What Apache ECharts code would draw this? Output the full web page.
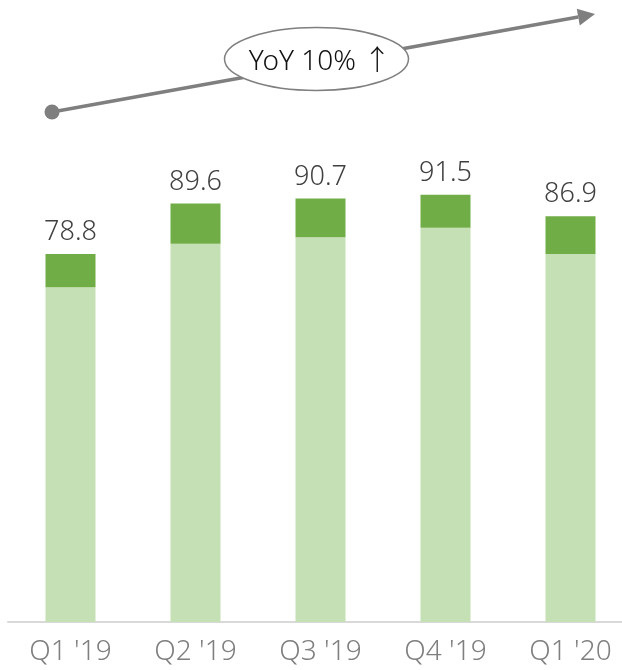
<!DOCTYPE html>
<html>
<head>
<meta charset="utf-8">
<script src="https://cdn.jsdelivr.net/npm/echarts@6/dist/echarts.min.js"></script>
<style>
html,body{margin:0;padding:0;background:#fff;overflow:hidden;width:622px;height:670px;}
#chart{width:633px;height:670px;}
</style>
</head>
<body>
<div id="chart"></div>
<script>
var categories = ["Q1 '19", "Q2 '19", "Q3 '19", "Q4 '19", "Q1 '20"];
var lowerValues = [71.7, 81.0, 82.4, 84.4, 78.8];
var upperValues = [7.1, 8.6, 8.3, 7.1, 8.1];
var totalLabels = ["78.8", "89.6", "90.7", "91.5", "86.9"];
var yoyText = "YoY 10% \u2191";

var chart = echarts.init(document.getElementById('chart'), null, {renderer: 'canvas'});

var FONT = "'Noto Sans', 'Noto Sans CJK KR', sans-serif";

// arrow geometry (annotation)
var p0 = [52, 112], tip = [595, 14];
var dx = tip[0] - p0[0], dy = tip[1] - p0[1];
var len = Math.sqrt(dx * dx + dy * dy);
var ux = dx / len, uy = dy / len;
var headLen = 17, headHalf = 8.5;
var base = [tip[0] - ux * headLen, tip[1] - uy * headLen];
var px = -uy, py = ux;

var option = {
  animation: false,
  grid: {left: 8, right: 0, top: 155, bottom: 48, containLabel: false},
  xAxis: {
    type: 'category',
    data: categories,
    axisLine: {show: true, lineStyle: {color: '#d9d9d9', width: 2}},
    axisTick: {show: false},
    axisLabel: {fontSize: 28, color: '#7f7f7f', fontFamily: FONT, fontWeight: 300, margin: 16}
  },
  yAxis: {
    type: 'value', min: 0, max: 100, show: false,
    splitLine: {show: false}
  },
  series: [
    {
      type: 'bar', stack: 's', barWidth: 50,
      data: lowerValues,
      itemStyle: {color: '#C5E0B4'}
    },
    {
      type: 'bar', stack: 's', barWidth: 50,
      data: upperValues,
      itemStyle: {color: '#70AD47'},
      label: {
        show: true, position: 'top', distance: 8,
        fontSize: 27, color: '#404040', fontFamily: FONT, fontWeight: 300,
        formatter: function (p) { return totalLabels[p.dataIndex]; }
      }
    }
  ],
  graphic: [
    {
      type: 'line', z: 10,
      shape: {x1: p0[0], y1: p0[1], x2: base[0], y2: base[1]},
      style: {stroke: '#7f7f7f', lineWidth: 3.5}
    },
    {
      type: 'polygon', z: 10,
      shape: {points: [tip, [base[0] + px * headHalf, base[1] + py * headHalf], [base[0] - px * headHalf, base[1] - py * headHalf]]},
      style: {fill: '#7f7f7f'}
    },
    {
      type: 'circle', z: 10,
      shape: {cx: p0[0], cy: p0[1], r: 7.5},
      style: {fill: '#7f7f7f'}
    },
    {
      type: 'ellipse', z: 11,
      shape: {cx: 316.5, cy: 59, rx: 92, ry: 31.5},
      style: {fill: '#ffffff', stroke: '#7f7f7f', lineWidth: 1.5}
    },
    {
      type: 'text', z: 12,
      x: 320, y: 62,
      style: {text: yoyText, fontSize: 28, fill: '#111111', fontFamily: FONT, fontWeight: 300, align: 'center', verticalAlign: 'middle'}
    }
  ]
};
chart.setOption(option);
</script>
</body>
</html>
